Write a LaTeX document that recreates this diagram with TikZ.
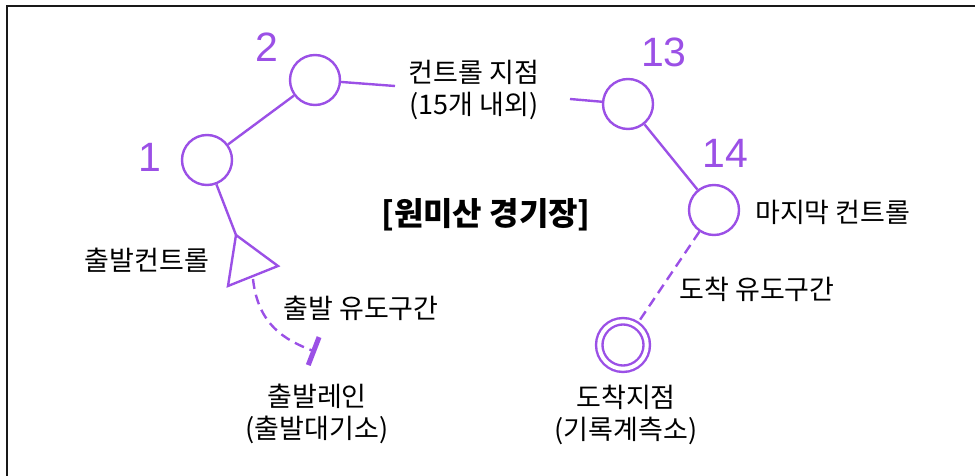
\documentclass[tikz,border=0pt]{standalone}
\usepackage{fontspec}
\setmainfont{Noto Sans CJK KR}
\newfontfamily\numfont{Liberation Sans}
\usetikzlibrary{positioning, arrows.meta}
\definecolor{cpurple}{RGB}{155,80,230}

\begin{document}
\begin{tikzpicture}[x=1pt,y=-1pt,
  ctrl/.style={circle,draw=cpurple,line width=2.4pt,minimum size=50pt,inner sep=0pt},
  num/.style={text=cpurple,inner sep=0pt,font=\numfont\fontsize{41}{41}\selectfont},
  lbl/.style={inner sep=0pt,align=center,font=\fontsize{27}{32}\selectfont},
  leg/.style={cpurple,line width=2.4pt}]
\useasboundingbox (0,0) rectangle (975,476);
\draw[line width=1.8pt,black!90] (7,490) -- (7,6) -- (990,6);%le cadre

%les controles
\node[ctrl] (c1) at (207,160) {};
\node[ctrl] (c2) at (315,80) {};
\node[ctrl] (c13) at (628,104) {};
\node[ctrl] (c14) at (714,210) {};
\node[ctrl,double=white,double distance=4pt,minimum size=47.5pt] (fin) at (623,345) {};

\node[num] (n1) at (150,157) {1};
\node[num] (n2) at (267,47) {2};
\node[num] (n13) at (664,52) {13};
\node[num] (n14) at (725,153) {14};

%le triangle de depart
\coordinate (t1) at (236,235);
\coordinate (t2) at (278,266);
\coordinate (t3) at (228,286);
\draw[leg,line join=miter] (t1) -- (t2) -- (t3) -- cycle;
\coordinate (tm) at (253,279);
\coordinate (lane) at (316,352);

\coordinate (k1) at (395,86);
\coordinate (k2) at (570,99);

\draw[leg] (c1) -- (c2);
\draw[leg] (c2) -- (k1);
\draw[leg] (k2) -- (c13);
\draw[leg] (c13) -- (c14);
\draw[leg] (c1) -- (t1);
\draw[leg,dash pattern=on 10pt off 6pt] (c14) -- (fin);
\draw[leg,dash pattern=on 10pt off 6pt,-{Bar[width=30pt,line width=5pt]}]
  (tm) .. controls (258,325) and (285,340) .. (lane);

%les textes
\node[lbl] (kt) at (474,90) {컨트롤 지점\\(15개 내외)};
\node[inner sep=0pt,font=\bfseries\fontsize{32}{34}\selectfont] (title) at (486,215) {[원미산 경기장]};
\node[lbl,anchor=west] (last) at (755,212) {마지막 컨트롤};
\node[lbl] (sc) at (147,260) {출발컨트롤};
\node[lbl] (sg) at (361,308) {출발 유도구간};
\node[lbl] (fg) at (757,289) {도착 유도구간};
\node[lbl] (sl) at (317,414) {출발레인\\(출발대기소)};
\node[lbl] (fl) at (626,415) {도착지점\\(기록계측소)};

\end{tikzpicture}
\end{document}
